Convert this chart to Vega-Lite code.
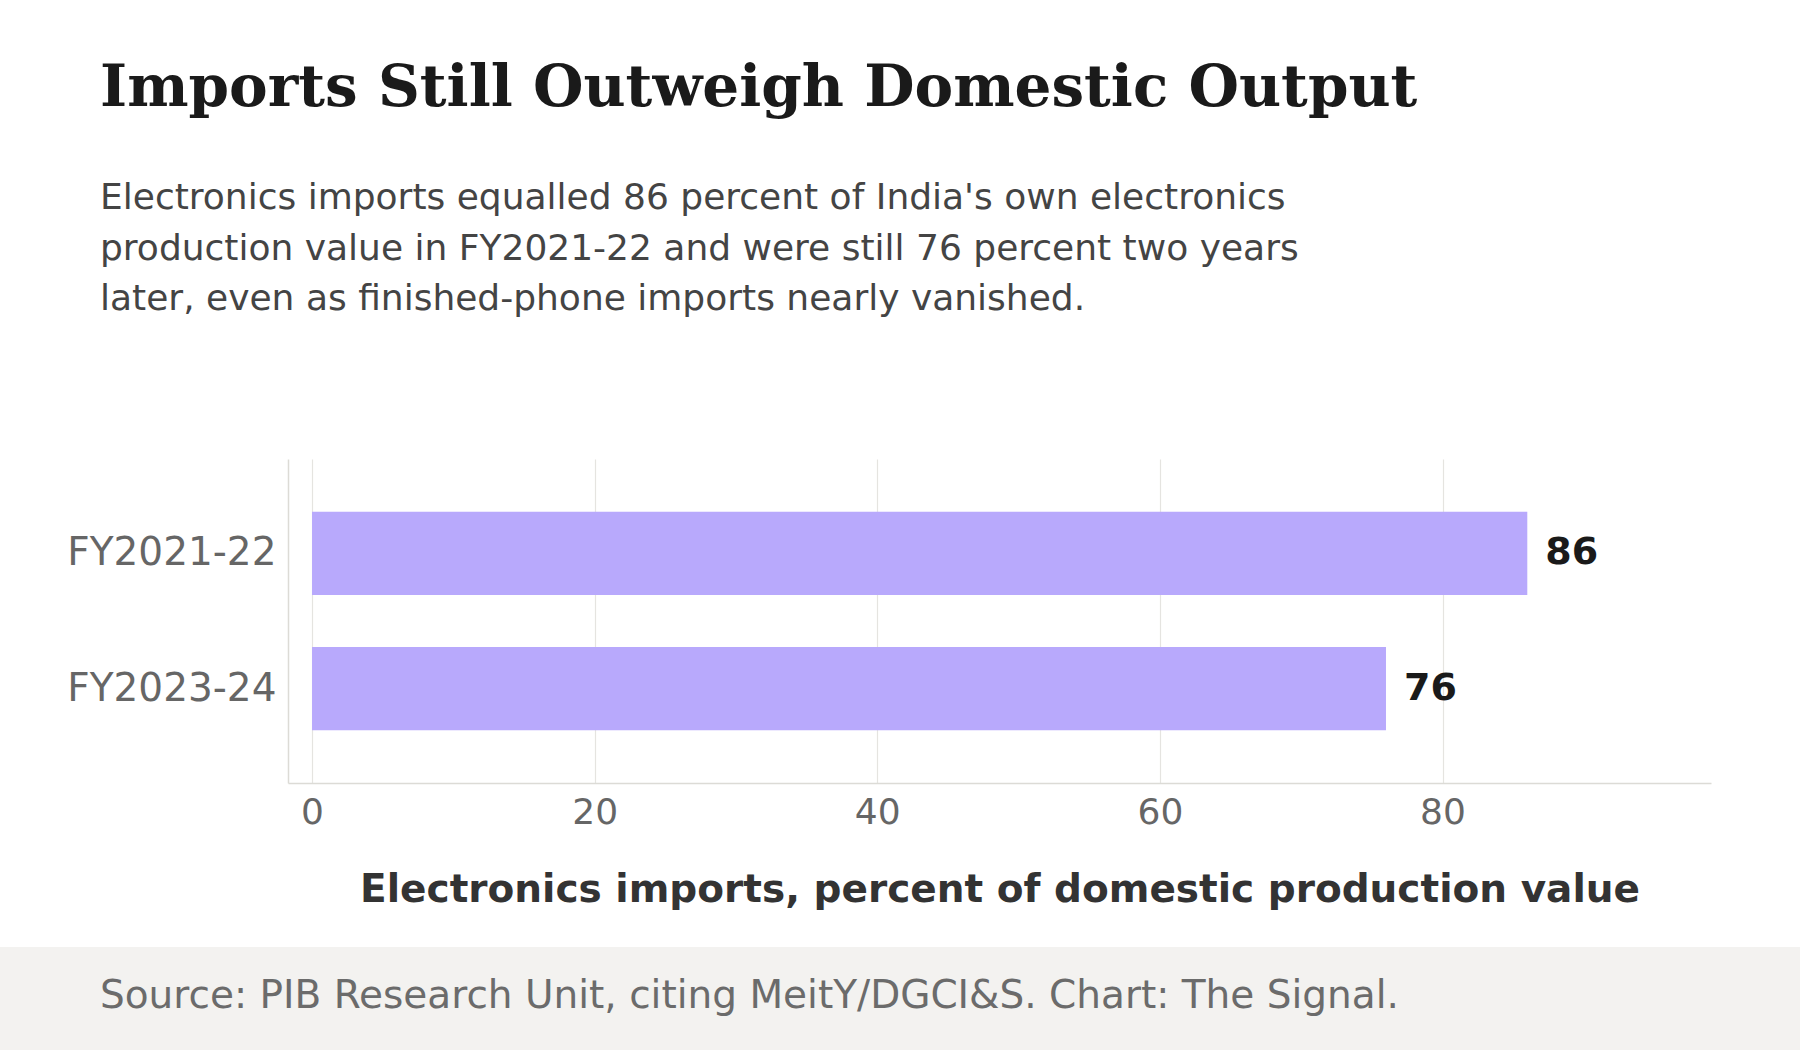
{
  "$schema": "https://vega.github.io/schema/vega-lite/v6.json",
  "padding": {"top": 60, "left": 0, "right": 0, "bottom": 0},
  "background": "#ffffff",
  "spacing": 38,
  "config": {
    "view": {"stroke": null},
    "font": "DejaVu Sans"
  },
  "vconcat": [
    {
      "width": 1711,
      "height": 324,
      "title": {
        "text": "Imports Still Outweigh Domestic Output",
        "subtitle": [
          "Electronics imports equalled 86 percent of India's own electronics",
          "production value in FY2021-22 and were still 76 percent two years",
          "later, even as finished-phone imports nearly vanished."
        ],
        "anchor": "start",
        "frame": "group",
        "dx": 100,
        "font": "DejaVu Serif",
        "fontSize": 58,
        "fontWeight": "bold",
        "color": "#1a1a1a",
        "subtitleFont": "DejaVu Sans",
        "subtitleFontSize": 36,
        "subtitleColor": "#444444",
        "subtitleLineHeight": 50.5,
        "subtitlePadding": 63,
        "offset": 142
      },
      "data": {
        "values": [
          {"year": "FY2021-22", "share": 86},
          {"year": "FY2023-24", "share": 76}
        ]
      },
      "encoding": {
        "y": {
          "field": "year",
          "type": "nominal",
          "sort": null,
          "scale": {"paddingInner": 0.385, "paddingOuter": 0.39},
          "axis": {
            "title": null,
            "offset": -288,
            "ticks": false,
            "grid": false,
            "labelPadding": 12,
            "labelLimit": 400,
            "labelFontSize": 39,
            "labelColor": "#666666",
            "domainColor": "#dcdbd6",
            "domainWidth": 1.5
          }
        },
        "x": {
          "field": "share",
          "type": "quantitative",
          "scale": {"domain": [-1.7, 99], "nice": false, "zero": false, "range": [288, 1711]},
          "axis": {
            "title": "Electronics imports, percent of domestic production value",
            "titleFontSize": 39,
            "titleFontWeight": "bold",
            "titleColor": "#333333",
            "titlePadding": 40,
            "values": [0, 20, 40, 60, 80],
            "ticks": false,
            "labelPadding": 12,
            "labelFontSize": 36,
            "labelColor": "#666666",
            "grid": true,
            "gridColor": "#e5e4e0",
            "gridWidth": 1.2,
            "domainColor": "#dcdbd6",
            "domainWidth": 1.5
          }
        }
      },
      "layer": [
        {"mark": {"type": "bar", "color": "#b8a9fc"}},
        {
          "mark": {
            "type": "text",
            "align": "left",
            "baseline": "middle",
            "dx": 18,
            "fontSize": 38,
            "fontWeight": "bold",
            "color": "#1a1a1a"
          },
          "encoding": {"text": {"field": "share", "type": "quantitative"}}
        }
      ]
    },
    {
      "width": 1800,
      "height": 103,
      "view": {"fill": "#f3f2f0", "stroke": null},
      "title": {
        "text": "Source: PIB Research Unit, citing MeitY/DGCI&S. Chart: The Signal.",
        "orient": "bottom",
        "anchor": "start",
        "frame": "group",
        "dx": 100,
        "offset": -42,
        "baseline": "alphabetic",
        "fontSize": 39,
        "fontWeight": "normal",
        "color": "#6b6b6b",
        "font": "DejaVu Sans"
      },
      "data": {"values": [{"k": 1}]},
      "mark": {"type": "point", "opacity": 0},
      "encoding": {}
    }
  ]
}
